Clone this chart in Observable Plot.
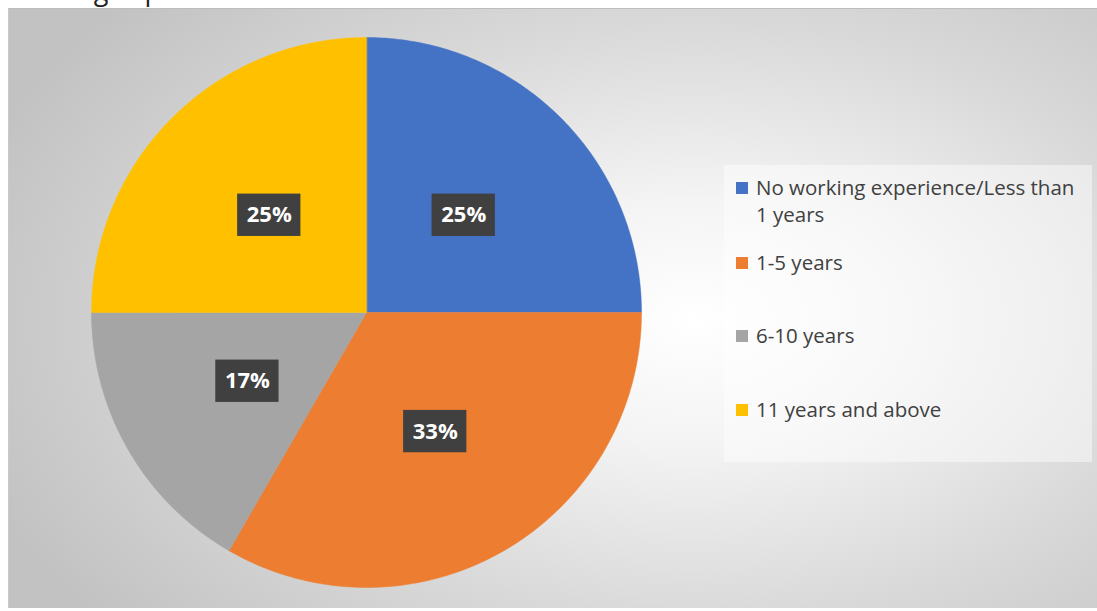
<!DOCTYPE html>
<html>
<head>
<meta charset="utf-8">
<script src="https://cdn.jsdelivr.net/npm/d3@7"></script>
<script src="https://cdn.jsdelivr.net/npm/@observablehq/plot@0.6"></script>
<style>
  html, body { margin: 0; padding: 0; background: #ffffff; width: 1097px; height: 611px; overflow: hidden; }
  #title { position: absolute; left: 4px; top: -29px; font-family: "Open Sans", Lato, sans-serif; font-size: 27px; color: #222; white-space: nowrap; }
  #chart { position: absolute; left: 8px; top: 8px; width: 1089px; height: 600px;
    background: radial-gradient(ellipse 70% 80% at 63% 52%, #ffffff 0%, #f4f4f4 25%, #d9d9d9 62%, #c2c2c2 100%);
    border-top: 1px solid #bdbdbd; border-left: 1px solid #c9c9c9; box-sizing: border-box; }
  #chart svg { display: block; background: transparent; }
  #legend { position: absolute; left: 724px; top: 165px; width: 368px; height: 297px;
    background: rgba(255,255,255,0.45); font-family: "Open Sans", Lato, sans-serif; font-size: 20.5px; color: #404040; }
  .item { position: absolute; left: 12px; display: flex; align-items: flex-start; line-height: 27px; }
  .sw { width: 12px; height: 12px; margin-top: 8px; margin-right: 8px; flex: none; }
</style>
</head>
<body>
<div id="title">Working Experience</div>
<div id="chart"></div>
<div id="legend"></div>
<script>
const categories = ["No working experience/Less than 1 years", "1-5 years", "6-10 years", "11 years and above"];
const values = [3, 4, 2, 3];
const colors = ["#4472C4", "#ED7D31", "#A5A5A5", "#FFC000"];
const labels = ["25%", "33%", "17%", "25%"];

const pie = d3.pie().sort(null).value(d => d.value)(categories.map((c, i) => ({name: c, value: values[i]})));

// slice polygons in unit coordinates (angle 0 at 12 o'clock, clockwise)
const slicePts = [];
pie.forEach(p => {
  const n = 120;
  slicePts.push({name: p.data.name, x: 0, y: 0});
  for (let k = 0; k <= n; k++) {
    const a = p.startAngle + (p.endAngle - p.startAngle) * k / n;
    slicePts.push({name: p.data.name, x: Math.sin(a), y: Math.cos(a)});
  }
});
const labelR = 0.5;
const labelPts = pie.map((p, i) => {
  const a = (p.startAngle + p.endAngle) / 2;
  return {name: p.data.name, label: labels[i], x: labelR * Math.sin(a), y: labelR * Math.cos(a)};
});
const bw = 0.115, bh = 0.077;

const plot = Plot.plot({
  width: 1088, height: 599,
  margin: 0,
  x: {domain: [-1, 1], range: [82, 632], axis: null},
  y: {domain: [-1, 1], range: [578, 28], axis: null},
  color: {domain: categories, range: colors},
  style: {background: "transparent"},
  marks: [
    Plot.line(slicePts, {x: "x", y: "y", z: "name", fill: "name", stroke: "name", strokeWidth: 0.5, curve: "linear-closed"}),
    Plot.rect(labelPts, {x1: d => d.x - bw, x2: d => d.x + bw, y1: d => d.y - bh, y2: d => d.y + bh,
      fill: "#404040", style: "filter: drop-shadow(4px 4px 3px rgba(0,0,0,0.4))"}),
    Plot.text(labelPts, {x: "x", y: "y", text: "label", fill: "white", fontSize: 22, fontWeight: "bold",
      fontFamily: "'Open Sans', Lato, sans-serif"})
  ]
});
document.getElementById("chart").appendChild(plot);

const legendTops = [9, 84, 157, 231];
const legend = document.getElementById("legend");
categories.forEach((c, i) => {
  const it = document.createElement("div");
  it.className = "item";
  it.style.top = legendTops[i] + "px";
  const sw = document.createElement("div");
  sw.className = "sw"; sw.style.background = colors[i];
  const tx = document.createElement("div");
  tx.style.width = "332px";
  tx.textContent = c;
  it.appendChild(sw); it.appendChild(tx);
  legend.appendChild(it);
});
</script>
</body>
</html>
